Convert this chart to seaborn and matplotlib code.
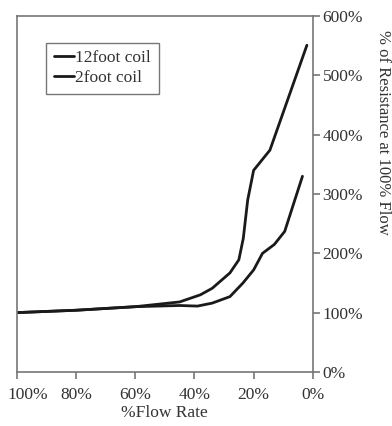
import pandas as pd
import seaborn as sns
import matplotlib.pyplot as plt
import matplotlib.transforms as mtransforms
from matplotlib.ticker import PercentFormatter

# flow rate (%) and resistance (% of resistance at 100% flow)
flow_12ft = [100, 80, 60, 45, 38, 34, 28, 25, 23.5, 22, 20, 14.5, 2]
res_12ft = [100, 104, 110, 118, 130, 141, 167, 189, 225, 290, 340, 374, 551]

flow_2ft = [100, 80, 60, 45, 39, 34, 28, 23.6, 20, 17, 13, 9.5, 3.5]
res_2ft = [100, 104, 110, 112, 111, 116, 127, 150, 172, 200, 215, 237, 330]

series_names = ['12foot coil', '2foot coil']

df = pd.concat([
    pd.DataFrame({'flow': flow_12ft, 'res': res_12ft, 'coil': series_names[0]}),
    pd.DataFrame({'flow': flow_2ft, 'res': res_2ft, 'coil': series_names[1]}),
])

sns.set_style('ticks')
plt.rcParams['font.family'] = ['Liberation Serif', 'DejaVu Serif']

fig = plt.figure(figsize=(3.92, 4.26), dpi=100)
ax = fig.add_axes([0.043, 0.127, 0.755, 0.835])

sns.lineplot(data=df, x='flow', y='res', hue='coil', palette=['#1a1a1a', '#1a1a1a'],
             linewidth=2, sort=False, estimator=None, ax=ax)

ax.set_xlim(100, 0)
ax.set_ylim(0, 600)
ax.set_xticks([100, 80, 60, 40, 20, 0])
ax.set_yticks([0, 100, 200, 300, 400, 500, 600])
ax.xaxis.set_major_formatter(PercentFormatter(decimals=0))
ax.yaxis.set_major_formatter(PercentFormatter(decimals=0))

ax.yaxis.tick_right()
ax.yaxis.set_label_position('right')
for side in ['left', 'right', 'top', 'bottom']:
    ax.spines[side].set_visible(True)
    ax.spines[side].set_color('#777777')
    ax.spines[side].set_linewidth(1.2)
ax.tick_params(axis='both', colors='#777777', labelcolor='#333333', labelsize=12.5, length=5, width=1.2)
ax.tick_params(axis='x', pad=6)
ax.tick_params(axis='y', pad=2)

# first x tick label sits a little to the right of its tick, as in the original
first = ax.xaxis.get_major_ticks()[0].label1
first.set_transform(first.get_transform() + mtransforms.ScaledTranslation(0.11, 0, fig.dpi_scale_trans))

ax.set_xlabel('%Flow Rate', fontsize=12.5, color='#333333', labelpad=1)
ax.set_ylabel('% of Resistance at 100% Flow', fontsize=12, color='#333333', rotation=270, va='center')
ax.yaxis.set_label_coords(1.236, 0.674)

leg = ax.legend(loc='upper left', bbox_to_anchor=(0.1, 0.926), fontsize=12.5, frameon=True,
                fancybox=False, handlelength=1.15, handletextpad=0.05, borderpad=0.45,
                labelspacing=0.2, borderaxespad=0)
leg.get_frame().set_edgecolor('#555555')
leg.get_frame().set_linewidth(1.0)
for t in leg.get_texts():
    t.set_color('#333333')

fig.savefig('out.png', dpi=100)
